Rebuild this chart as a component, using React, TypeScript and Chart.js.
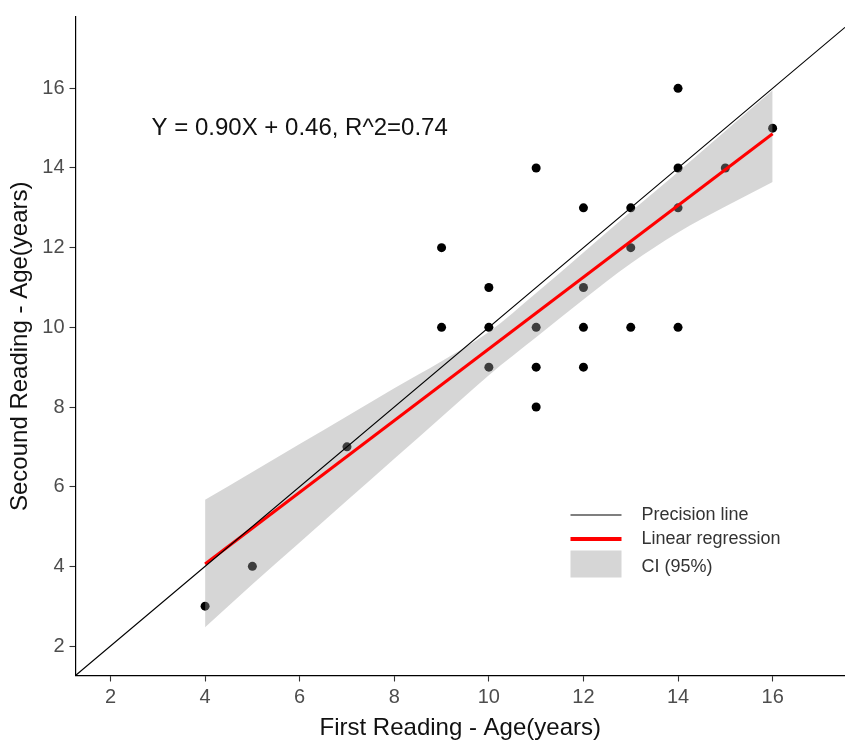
import { useEffect, useRef } from "react";
import { Chart, registerables } from "chart.js";

Chart.register(...registerables);

// Paired age readings (years)
const firstReading = [4, 5, 7, 9, 9, 10, 10, 10, 11, 11, 11, 11, 12, 12, 12, 12, 13, 13, 13, 14, 14, 14, 14, 15, 16];
const secondReading = [3, 4, 7, 10, 12, 9, 10, 11, 8, 9, 10, 14, 9, 10, 11, 13, 10, 12, 13, 10, 13, 14, 16, 14, 15];

// 95% confidence band around the fitted line
const ciX = [4, 5, 6, 7, 8, 9, 10, 11, 12, 13, 14, 15, 16];
const ciLower = [2.47, 3.55, 4.6, 5.65, 6.7, 7.75, 8.8, 9.75, 10.7, 11.6, 12.38, 13.03, 13.65];
const ciUpper = [5.67, 6.37, 7.07, 7.77, 8.47, 9.15, 9.88, 10.86, 11.88, 12.9, 13.9, 14.93, 15.95];

// Linear fit
const slope = 0.9;
const intercept = 0.46;
const rSquared = 0.74;
const fitRange = [4, 16];

// Axes
const xRange = [1.26, 17.53];
const yRange = [1.26, 17.79];
const xTicks = [2, 4, 6, 8, 10, 12, 14, 16];
const yTicks = [2, 4, 6, 8, 10, 12, 14, 16];

const equationPos = [6, 15];
const equationText = `Y = ${slope.toFixed(2)}X + ${intercept.toFixed(2)}, R^2=${rSquared.toFixed(2)}`;

const legendItems = ["Precision line", "Linear regression", "CI (95%)"];

const FONT = '"Liberation Sans", Arial, sans-serif';
const BAND = "rgba(153,153,153,0.4)";

const overlay = {
  id: "overlay",
  afterDatasetsDraw(chart: any) {
    const { ctx, chartArea, scales } = chart;
    ctx.save();
    // fit equation
    ctx.font = `24px ${FONT}`;
    ctx.fillStyle = "#111";
    ctx.textAlign = "center";
    ctx.textBaseline = "middle";
    ctx.fillText(
      equationText,
      scales.x.getPixelForValue(equationPos[0]),
      scales.y.getPixelForValue(equationPos[1])
    );

    // legend
    const keyLeft = chartArea.left + 495;
    const keyW = 51;
    const textLeft = chartArea.left + 566;
    const top = chartArea.top;

    ctx.strokeStyle = "#000";
    ctx.lineWidth = 1.2;
    ctx.beginPath();
    ctx.moveTo(keyLeft, top + 498);
    ctx.lineTo(keyLeft + keyW, top + 498);
    ctx.stroke();

    ctx.strokeStyle = "#ff0000";
    ctx.lineWidth = 3.8;
    ctx.beginPath();
    ctx.moveTo(keyLeft, top + 522);
    ctx.lineTo(keyLeft + keyW, top + 522);
    ctx.stroke();

    ctx.fillStyle = BAND;
    ctx.fillRect(keyLeft, top + 533.5, keyW, 27);

    ctx.font = `18px ${FONT}`;
    ctx.fillStyle = "#333";
    ctx.textAlign = "left";
    ctx.fillText(legendItems[0], textLeft, top + 498);
    ctx.fillText(legendItems[1], textLeft, top + 522);
    ctx.fillText(legendItems[2], textLeft, top + 550);
    ctx.restore();
  },
};

export default function App() {
  const canvasRef = useRef<HTMLCanvasElement | null>(null);

  useEffect(() => {
    const canvas = canvasRef.current;
    if (!canvas) return;

    const points = firstReading.map((x, i) => ({ x, y: secondReading[i] }));
    const lower = ciX.map((x, i) => ({ x, y: ciLower[i] }));
    const upper = ciX.map((x, i) => ({ x, y: ciUpper[i] }));
    const fit = fitRange.map((x) => ({ x, y: slope * x + intercept }));
    const identity = [
      { x: xRange[0], y: xRange[0] },
      { x: xRange[1], y: xRange[1] },
    ];

    const axisCommon = {
      type: "linear" as const,
      grid: {
        display: true,
        drawOnChartArea: false,
        drawTicks: true,
        tickLength: 6,
        tickColor: "#333333",
        tickWidth: 1.1,
      },
      border: { display: true, color: "#000", width: 1.2 },
    };

    const chart = new Chart(canvas, {
      type: "line",
      data: {
        datasets: [
          {
            label: "points",
            data: points,
            showLine: false,
            pointRadius: 4.5,
            pointBackgroundColor: "#000",
            pointBorderWidth: 0,
            order: 5,
          },
          {
            label: "ci-lower",
            data: lower,
            borderWidth: 0,
            pointRadius: 0,
            cubicInterpolationMode: "monotone",
            fill: false,
            order: 4,
          },
          {
            label: "ci-upper",
            data: upper,
            borderWidth: 0,
            pointRadius: 0,
            cubicInterpolationMode: "monotone",
            fill: "-1",
            backgroundColor: BAND,
            order: 4,
          },
          {
            label: "Linear regression",
            data: fit,
            borderColor: "#ff0000",
            borderWidth: 3,
            pointRadius: 0,
            fill: false,
            order: 2,
          },
          {
            label: "Precision line",
            data: identity,
            borderColor: "#000",
            borderWidth: 1.1,
            pointRadius: 0,
            fill: false,
            order: 1,
          },
        ],
      },
      options: {
        animation: false,
        responsive: false,
        devicePixelRatio: 1,
        events: [],
        layout: { autoPadding: false, padding: { top: 16.5, right: 0, bottom: 0, left: 0 } },
        plugins: {
          legend: { display: false },
          tooltip: { enabled: false },
        },
        scales: {
          x: {
            ...axisCommon,
            min: xRange[0],
            max: xRange[1],
            afterBuildTicks: (s: any) => {
              s.ticks = xTicks.map((v) => ({ value: v }));
            },
            afterFit: (s: any) => {
              s.height = 64.5;
            },
            ticks: {
              color: "#4d4d4d",
              font: { family: FONT, size: 20 },
              padding: 4,
              maxRotation: 0,
            },
            title: {
              display: true,
              text: "First Reading - Age(years)",
              color: "#111",
              font: { family: FONT, size: 24, lineHeight: 1 },
              padding: { top: 0, bottom: 0 },
            },
          },
          y: {
            ...axisCommon,
            min: yRange[0],
            max: yRange[1],
            afterBuildTicks: (s: any) => {
              s.ticks = yTicks.map((v) => ({ value: v }));
            },
            afterFit: (s: any) => {
              s.width = 75.5;
            },
            ticks: {
              color: "#4d4d4d",
              font: { family: FONT, size: 20 },
              padding: 5,
            },
            title: {
              display: true,
              text: "Secound Reading - Age(years)",
              color: "#111",
              font: { family: FONT, size: 24, lineHeight: 1 },
              padding: { top: 8, bottom: 0 },
            },
          },
        },
      },
      plugins: [overlay],
    });

    return () => chart.destroy();
  }, []);

  return (
    <div style={{ position: "absolute", left: 0, top: 0, width: 845, height: 740, background: "#fff" }}>
      <canvas ref={canvasRef} width={845} height={740} style={{ display: "block" }} />
    </div>
  );
}
